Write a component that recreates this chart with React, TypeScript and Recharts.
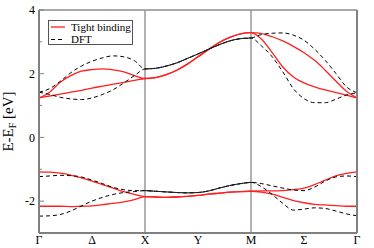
import React from 'react';
import { LineChart, Line, XAxis, YAxis, ReferenceLine } from 'recharts';

// k path Γ-X-M-Γ, each leg scaled to length 1
const kPath = [
  0, 0.1, 0.2, 0.3, 0.4, 0.5, 0.6, 0.7, 0.8, 0.9,
  1, 1.1, 1.2, 1.3, 1.4, 1.5, 1.6, 1.7, 1.8, 1.9,
  2, 2.1, 2.2, 2.3, 2.4, 2.5, 2.6, 2.7, 2.8, 2.9, 3,
];
const kTicks = [0, 0.5, 1, 1.5, 2, 2.5, 3];
const kLabels = ['Γ', 'Δ', 'X', 'Y', 'M', 'Σ', 'Γ'];
const eTicks = [-3, -2, -1, 0, 1, 2, 3, 4];

// tight binding bands (eV)
const tbUpper1 = [
  1.24, 1.30, 1.36, 1.42, 1.48, 1.55, 1.61, 1.67, 1.73, 1.79,
  1.85, 1.88, 1.97, 2.11, 2.30, 2.53, 2.76, 2.98, 3.14, 3.25,
  3.29, 3.26, 3.16, 3.03, 2.86, 2.66, 2.42, 2.11, 1.77, 1.45, 1.24,
];
const tbUpper2 = [
  1.24, 1.42, 1.73, 1.94, 2.08, 2.13, 2.15, 2.12, 2.06, 1.94,
  1.85, 1.88, 1.97, 2.11, 2.30, 2.53, 2.76, 2.98, 3.14, 3.25,
  3.29, 3.08, 2.66, 2.21, 1.90, 1.71, 1.59, 1.49, 1.41, 1.33, 1.24,
];
const tbLower1 = [
  -1.08, -1.09, -1.12, -1.18, -1.27, -1.37, -1.48, -1.59, -1.70, -1.79,
  -1.86, -1.87, -1.88, -1.87, -1.85, -1.82, -1.78, -1.75, -1.72, -1.70,
  -1.69, -1.68, -1.68, -1.67, -1.64, -1.59, -1.48, -1.34, -1.21, -1.13, -1.08,
];
const tbLower2 = [
  -2.16, -2.16, -2.16, -2.17, -2.16, -2.15, -2.11, -2.07, -2.02, -1.95,
  -1.86, -1.87, -1.88, -1.87, -1.85, -1.82, -1.78, -1.75, -1.72, -1.70,
  -1.69, -1.72, -1.78, -1.88, -1.98, -2.05, -2.10, -2.12, -2.14, -2.16, -2.16,
];

// DFT bands (eV)
const dftUpper1 = [
  1.42, 1.35, 1.26, 1.21, 1.19, 1.24, 1.35, 1.50, 1.71, 1.94,
  2.15, 2.17, 2.24, 2.34, 2.48, 2.62, 2.77, 2.91, 3.03, 3.10,
  3.12, 2.87, 2.53, 2.06, 1.53, 1.22, 1.09, 1.09, 1.20, 1.33, 1.40,
];
const dftUpper2 = [
  1.42, 1.53, 1.76, 2.03, 2.24, 2.39, 2.50, 2.56, 2.53, 2.41,
  2.15, 2.17, 2.24, 2.34, 2.48, 2.62, 2.77, 2.91, 3.03, 3.10,
  3.12, 3.23, 3.27, 3.28, 3.21, 3.05, 2.77, 2.42, 2.01, 1.59, 1.40,
];
const dftLower1 = [
  -1.23, -1.21, -1.19, -1.20, -1.24, -1.34, -1.45, -1.57, -1.64, -1.67,
  -1.67, -1.69, -1.71, -1.73, -1.74, -1.73, -1.68, -1.59, -1.51, -1.45,
  -1.41, -1.45, -1.52, -1.59, -1.65, -1.67, -1.56, -1.37, -1.24, -1.21, -1.23,
];
const dftLower2 = [
  -2.47, -2.46, -2.42, -2.31, -2.15, -2.00, -1.88, -1.79, -1.73, -1.70,
  -1.67, -1.69, -1.71, -1.73, -1.74, -1.73, -1.68, -1.59, -1.51, -1.45,
  -1.41, -1.55, -1.79, -2.07, -2.28, -2.25, -2.21, -2.23, -2.31, -2.40, -2.46,
];

const data = kPath.map((k, i) => ({
  k,
  tbU1: tbUpper1[i],
  tbU2: tbUpper2[i],
  tbL1: tbLower1[i],
  tbL2: tbLower2[i],
  dftU1: dftUpper1[i],
  dftU2: dftUpper2[i],
  dftL1: dftLower1[i],
  dftL2: dftLower2[i],
  // X-M bands are degenerate, the dashes overlap into a solid line
  dftUxm: i >= 10 && i <= 20 ? dftUpper1[i] : null,
  dftLxm: i >= 10 && i <= 20 ? dftLower1[i] : null,
}));

const FONT = '"Liberation Serif", "DejaVu Serif", serif';
const FRAME = '#808080';
const RED = '#ff2020';

const LeftTick = (props: any) => {
  const { x, y, payload } = props;
  const major = payload.value % 2 === 0;
  return (
    <g>
      <line x1={x + 4} x2={x + 4 + (major ? 5 : 3)} y1={y} y2={y} stroke={FRAME} />
      {major && (
        <text x={x} y={y} dy="0.35em" textAnchor="end" fontSize={12} fontFamily={FONT} fill="#000">
          {payload.value}
        </text>
      )}
    </g>
  );
};

const RightTick = (props: any) => {
  const { x, y, payload } = props;
  const major = payload.value % 2 === 0;
  return <line x1={x - (major ? 5 : 3)} x2={x} y1={y} y2={y} stroke={FRAME} />;
};

const YLabel = (props: any) => {
  const vb = props.viewBox || { x: 0, y: 10, width: 39, height: 223 };
  const cx = vb.x + 13;
  const cy = vb.y + vb.height / 2;
  return (
    <text
      x={cx}
      y={cy}
      textAnchor="middle"
      transform={`rotate(-90, ${cx}, ${cy})`}
      fontSize={15}
      fontFamily={FONT}
      fill="#000"
    >
      E-E<tspan dy={3} fontSize={10}>F</tspan>
      <tspan dy={-3}> [eV]</tspan>
    </text>
  );
};

function BandLegend() {
  return (
    <svg width={87} height={27} style={{ position: 'absolute', left: 47, top: 19 }}>
      <rect x={1.5} y={1.5} width={84} height={24} fill="#fff" stroke="#555" />
      <line x1={4} x2={18} y1={8} y2={8} stroke={RED} strokeWidth={1.3} />
      <text x={24} y={11.8} fontSize={11} fontFamily={FONT} fill="#000">Tight binding</text>
      <line x1={4} x2={18} y1={20.5} y2={20.5} stroke="#000" strokeDasharray="4 3" />
      <text x={24} y={24.3} fontSize={11} fontFamily={FONT} fill="#000">DFT</text>
    </svg>
  );
}

export default function App() {
  return (
    <div style={{ position: 'absolute', left: 0, top: 0, width: 374, height: 248, background: '#fff' }}>
      <LineChart width={374} height={248} data={data} margin={{ top: 10, right: 0, bottom: 0, left: 0 }}>
        <XAxis
          dataKey="k"
          type="number"
          domain={[0, 3]}
          ticks={kTicks}
          interval={0}
          tickFormatter={(v: number) => kLabels[kTicks.indexOf(v)]}
          tickLine={false}
          tickSize={0}
          tickMargin={2}
          height={15}
          axisLine={{ stroke: FRAME, strokeWidth: 2 }}
          tick={{ fontSize: 12, fontFamily: FONT, fill: '#000' }}
        />
        <YAxis
          type="number"
          domain={[-3, 4]}
          ticks={eTicks}
          interval={0}
          width={39}
          tickLine={false}
          tickSize={0}
          tickMargin={4}
          tick={<LeftTick />}
          axisLine={{ stroke: FRAME, strokeWidth: 2 }}
          label={<YLabel />}
        />
        <YAxis
          yAxisId="r"
          orientation="right"
          type="number"
          domain={[-3, 4]}
          ticks={eTicks}
          interval={0}
          width={17}
          tickLine={false}
          tickSize={0}
          tickMargin={0}
          tick={<RightTick />}
          axisLine={{ stroke: FRAME, strokeWidth: 2 }}
        />
        <ReferenceLine y={4} stroke="#555" strokeWidth={1} />
        <ReferenceLine x={1} stroke="#999" strokeWidth={1.5} />
        <ReferenceLine x={2} stroke="#999" strokeWidth={1.5} />

        <Line type="monotone" dataKey="tbU1" stroke={RED} strokeWidth={1.3} dot={false} isAnimationActive={false} />
        <Line type="monotone" dataKey="tbU2" stroke={RED} strokeWidth={1.3} dot={false} isAnimationActive={false} />
        <Line type="monotone" dataKey="tbL1" stroke={RED} strokeWidth={1.3} dot={false} isAnimationActive={false} />
        <Line type="monotone" dataKey="tbL2" stroke={RED} strokeWidth={1.3} dot={false} isAnimationActive={false} />

        <Line type="monotone" dataKey="dftU1" stroke="#000" strokeWidth={1} strokeDasharray="4 3" dot={false} isAnimationActive={false} />
        <Line type="monotone" dataKey="dftU2" stroke="#000" strokeWidth={1} strokeDasharray="4 3" dot={false} isAnimationActive={false} />
        <Line type="monotone" dataKey="dftL1" stroke="#000" strokeWidth={1} strokeDasharray="4 3" dot={false} isAnimationActive={false} />
        <Line type="monotone" dataKey="dftL2" stroke="#000" strokeWidth={1} strokeDasharray="4 3" dot={false} isAnimationActive={false} />
        <Line type="monotone" dataKey="dftUxm" stroke="#222" strokeWidth={1} dot={false} isAnimationActive={false} />
        <Line type="monotone" dataKey="dftLxm" stroke="#222" strokeWidth={1} dot={false} isAnimationActive={false} />
      </LineChart>
      <BandLegend />
    </div>
  );
}
